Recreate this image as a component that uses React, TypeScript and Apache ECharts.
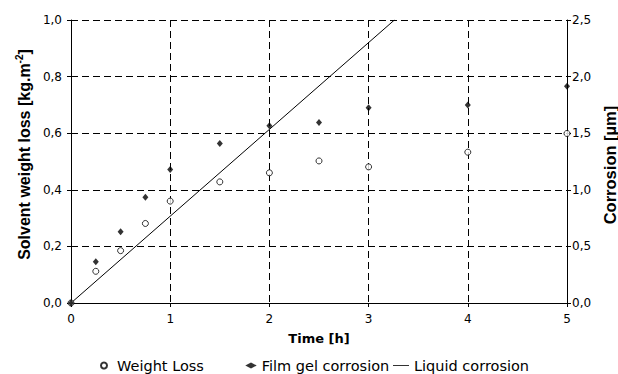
import React, { useEffect, useRef } from "react";
import * as echarts from "echarts";

const hours = [0, 0.25, 0.5, 0.75, 1, 1.5, 2, 2.5, 3, 4, 5];
const weightLoss = [0, 0.112, 0.185, 0.281, 0.36, 0.428, 0.46, 0.502, 0.481, 0.533, 0.599];
const filmGelCorrosion = [0, 0.365, 0.63, 0.935, 1.18, 1.41, 1.565, 1.595, 1.725, 1.75, 1.915];
const liquidHours = [0, 3.26];
const liquidCorrosion = [0, 2.5];
const legendNames = ["Weight Loss", "Film gel corrosion", "Liquid corrosion"];

const fmt = (v: number) => v.toFixed(1).replace(".", ",");

export default function App() {
  const ref = useRef<HTMLDivElement>(null);
  useEffect(() => {
    if (!ref.current) return;
    const chart = echarts.init(ref.current, null, { renderer: "svg" });
    const tickFont = { color: "#000", fontFamily: "DejaVu Sans", fontSize: 12 };
    const legendText = { color: "#000", fontFamily: "DejaVu Sans", fontSize: 14.5 };
    const dash = { color: "#000", type: [7, 4] as any, width: 1 };
    const arial = "'Liberation Sans', Arial, sans-serif";
    chart.setOption({
      animation: false,
      backgroundColor: "#fff",
      grid: { left: 71, right: 51, top: 20, bottom: 71, containLabel: false, outerBoundsMode: "none" },
      xAxis: {
        type: "value",
        min: 0,
        max: 5,
        interval: 1,
        name: "Time [h]",
        nameLocation: "middle",
        nameGap: 29,
        nameTextStyle: { fontFamily: "DejaVu Sans", fontWeight: "bold", fontSize: 13, color: "#000" },
        axisLine: { show: true, onZero: false, lineStyle: { color: "#000", width: 1 } },
        axisTick: { show: true, length: 4, lineStyle: { color: "#000" } },
        axisLabel: { ...tickFont, margin: 10 },
        splitLine: { show: true, lineStyle: dash },
      },
      yAxis: [
        {
          type: "value",
          position: "left",
          min: 0,
          max: 1,
          interval: 0.2,
          name: "{a|Solvent weight loss [kg.m}{s|-2}{a|]}",
          nameLocation: "middle",
          nameGap: 33,
          nameTextStyle: {
            color: "#000",
            fontFamily: arial,
            fontWeight: "bold",
            fontSize: 16,
            padding: [0, 0, 0, 14],
            rich: {
              a: { fontFamily: arial, fontWeight: "bold", fontSize: 16, lineHeight: 20, color: "#000" },
              s: { fontFamily: arial, fontWeight: "bold", fontSize: 10, lineHeight: 10, verticalAlign: "top", color: "#000" },
            },
          },
          axisLine: { show: true, onZero: false, lineStyle: { color: "#000", width: 1 } },
          axisTick: { show: true, length: 4, lineStyle: { color: "#000" } },
          axisLabel: { ...tickFont, margin: 9, formatter: fmt },
          splitLine: { show: true, lineStyle: dash },
        },
        {
          type: "value",
          position: "right",
          min: 0,
          max: 2.5,
          interval: 0.5,
          name: "Corrosion [µm]",
          nameLocation: "middle",
          nameGap: 34,
          nameTextStyle: {
            fontFamily: arial,
            fontWeight: "bold",
            fontSize: 16.5,
            lineHeight: 16,
            color: "#000",
            padding: [0, 7, 0, 0],
          },
          axisLine: { show: true, onZero: false, lineStyle: { color: "#000", width: 1 } },
          axisTick: { show: true, length: 4, lineStyle: { color: "#000" } },
          axisLabel: { ...tickFont, margin: 5, formatter: fmt },
          splitLine: { show: false },
        },
      ],
      legend: [
        { data: [legendNames[0]], left: 100, top: 358, itemWidth: 16, itemHeight: 6, itemGap: 0, padding: 0, textStyle: legendText },
        { data: [legendNames[1]], left: 245.3, top: 358, itemWidth: 11.4, itemHeight: 6, itemGap: 0, padding: 0, textStyle: legendText },
        {
          data: [{ name: legendNames[2], icon: "path://M0,0H16V1H0Z" }],
          left: 393,
          top: 358,
          itemWidth: 16,
          itemHeight: 6,
          itemGap: 0,
          padding: 0,
          textStyle: legendText,
          itemStyle: { color: "#333" },
        },
      ],
      series: [
        {
          name: legendNames[0],
          type: "scatter",
          yAxisIndex: 0,
          symbol: "circle",
          symbolSize: 6,
          itemStyle: { color: "#fff", borderColor: "#000", borderWidth: 1 },
          data: hours.map((h, i) => [h, weightLoss[i]]),
          z: 3,
        },
        {
          name: legendNames[1],
          type: "scatter",
          yAxisIndex: 1,
          symbol: "diamond",
          symbolSize: [6, 7],
          itemStyle: { color: "#000" },
          data: hours.map((h, i) => [h, filmGelCorrosion[i]]),
          z: 4,
        },
        {
          name: legendNames[2],
          type: "line",
          yAxisIndex: 1,
          symbol: "none",
          showSymbol: false,
          lineStyle: { color: "#000", width: 1 },
          itemStyle: { color: "#000" },
          data: liquidHours.map((h, i) => [h, liquidCorrosion[i]]),
          z: 2,
        },
      ],
    });
    return () => chart.dispose();
  }, []);
  return <div ref={ref} style={{ position: "fixed", left: 0, top: 0, width: 618, height: 374 }} />;
}
